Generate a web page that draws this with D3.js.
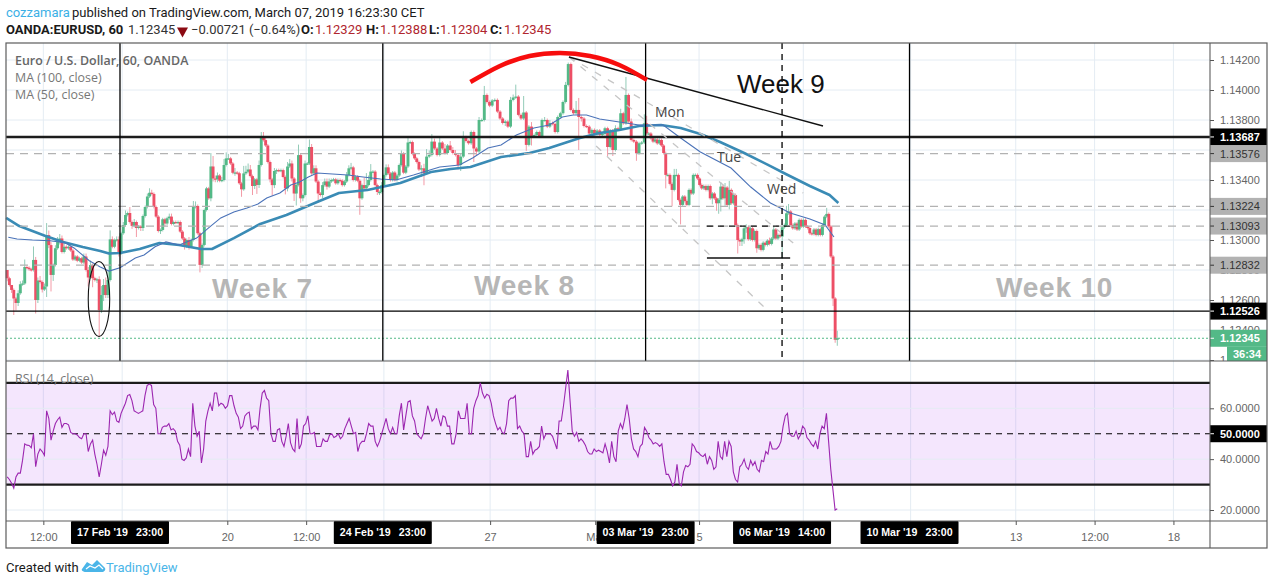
<!DOCTYPE html>
<html><head><meta charset="utf-8">
<script src="https://cdn.jsdelivr.net/npm/d3@7/dist/d3.min.js"></script>
<style>html,body{margin:0;padding:0;background:#fff}svg{display:block}</style>
</head><body><div id="c"></div>
<script>
// ---- candle data (hours are counted from 17 Feb 23:00) ----
const closesA=[1.12745,1.1270,1.12667,1.1261,1.1258,1.12645,1.12705,1.1271,1.1282,1.12815,
1.12805,1.1280,1.12867,1.1260,1.1273,1.1272,1.1267,1.1269,1.13033,1.12966,
1.12767,1.12833,1.12945,1.1299,1.1301,1.1292,1.12955,1.12945,1.12955,1.1293,
1.1287,1.1289,1.12862,1.12878,1.1285,1.1289,1.1280,1.1275,1.12833,1.12745,
1.12733,1.12738,1.12533,1.12633,1.1270,1.12633,1.12733,1.13004,1.12955,1.1300,
1.13004,1.1291];
const wickUpA=[0,1,0,1,1,2,2,2,5,1, 1,1,9,2,2,3,1,2,8,3, 2,1,2,3,3,2,3,1,1,1, 1,1,1,1,1,2,2,2,3,1, 1,1,2,6,4,5,6,6,2,1, 2,2];
const wickDnA=[2,1,2,11,5,2,1,1,1,1, 1,1,1,9,2,1,2,1,7,2, 11,4,1,1,2,1,1,1,1,1, 1,1,1,1,1,1,1,6,1,6, 1,2,18,2,4,2,2,1,1,1, 1,2];

const closesB=[1.13045,1.1310,1.13167,1.1318,1.1312,1.13094,1.1312,1.1308,1.1309,1.1308,
1.1316,1.1322,1.1329,1.13315,1.13307,1.1322,1.13156,1.1306,1.13067,1.13138,1.1311,
1.13145,1.13156,1.13107,1.1312,1.13116,1.1312,1.13056,1.1301,1.12956,1.1300,
1.12956,1.1300,1.1322,1.13227,1.13045,1.12834,1.12967,1.1320,1.13344,1.13278,
1.1349,1.1341,1.13405,1.1343,1.13395,1.1340,1.1350,1.13544,1.13544,1.1351,
1.13448,1.1345,1.13445,1.13378,1.13338,1.13444,1.13455,1.1347,1.13426,1.1336,1.13404,
1.13367,1.1350,1.1369,1.13666,1.1363,1.1352,1.13404,1.13366,1.1346,1.13466,
1.13462,1.13466,1.1342,1.13344,1.1349,1.1351,1.1341,1.1331,1.13367,1.13566,1.13278,
1.1330,1.1351,1.1351,1.1362,1.13444,1.13478,1.1339,1.1331,1.1330,1.13366,
1.1339,1.13356,1.1339,1.1340,1.13404,1.13378,1.1340,1.13395,1.13366,1.1339,
1.13433,1.13478,1.13484,1.1340,1.13422,1.13395,1.13278,1.13366,1.13344,1.13366,
1.1340,1.13456,1.13456,1.13366,1.1332,1.1332,1.13366];
const wickUpB=[1,2,3,1,4,1,2,1,1,1, 1,1,2,3,2,1,1,1,1,1,1, 1,2,2,1,1,1,1,1,1,1, 2,1,4,3,1,1,1,1,1,1, 9,7,2,2,1,2,4,4,3,1, 1,3,1,1,1,5,4,4,3,1,1, 1,3,3,3,2,1,1,1,2,1, 1,1,1,1,3,3,2,1,1,7,1, 1,2,1,5,2,2,2,1,1,2, 2,2,2,1,1,1,1,1,1,1, 2,2,3,1,1,1,1,1,5,8, 3,5,1,1,1,1,2];
const wickDnB=[1,1,1,1,1,2,1,6,1,2, 2,1,1,1,1,1,1,1,2,1,2, 1,1,1,1,1,1,1,1,2,1, 2,1,1,1,1,5,2,1,1,1, 2,2,2,2,1,1,1,1,1,1, 1,2,1,1,5,1,1,1,1,6,2, 6,2,1,1,1,1,2,7,2,2, 1,1,1,4,2,1,2,5,8,1,3, 2,1,1,1,1,1,1,6,1,2, 1,2,1,1,1,1,1,1,1,1, 1,1,1,1,1,1,11,1,1,1, 1,1,1,1,2,2,1];

const closesC1=[1.13433,1.13484,1.13444,1.1340,1.1345,1.1340,1.1343,1.1350,1.13577,1.13449,
1.1349,1.1365,1.13653,1.13574,1.13544,1.1352,1.1347];
const wickUpC1=[1,2,2,1,1,1,1,1,2,1, 1,4,1,1,1,1,1];
const wickDnC1=[1,1,1,1,1,1,1,1,1,1, 1,1,1,1,1,1,1];

const closesC2=[1.13478,1.13445,1.13556,1.13567,1.13656,1.1361,1.13567,1.1365,1.1361,1.1358,
1.1363,1.1360,1.1358,1.13567,1.1350,1.13556,1.13685,1.1366,1.13645,1.1372,
1.1361,1.1359,1.1380,1.1380,1.13967,1.1392,1.13896,1.1393,1.13934,1.13856,
1.1381,1.1378,1.1379,1.13756,1.13934,1.1395,1.13956,1.13834,1.1381,1.1385,
1.13634,1.13756,1.1369,1.1370,1.1372,1.1369,1.1380,1.1380,1.13756,1.1378,
1.13774,1.1372,1.1382,1.13845,1.1392,1.14034,1.14173,1.13867,1.13845,1.13867,
1.1382,1.1381,1.1376,1.13756,1.1371,1.13734,1.13707,1.1373,1.1370,1.13707,
1.13745,1.1362,1.1373,1.1360,1.13745,1.1374,1.13845,1.13778,1.13967,1.1379,
1.13667,1.13656,1.13578,1.13645,1.1365,1.13778];
const wickUpC2=[2,3,5,3,5,2,1,4,1,3, 1,3,2,2,1,2,4,1,1,1, 1,1,2,1,6,1,1,1,1,1, 1,1,1,1,2,2,8,1,1,11, 1,1,3,1,1,1,1,2,1,2, 1,1,1,1,1,2,1,1,1,6, 8,1,1,1,1,1,1,1,1,1, 1,1,1,1,2,1,3,1,12,1, 2,1,1,1,1,6];
const wickDnC2=[5,8,1,1,1,1,1,1,1,1, 1,1,1,1,3,4,1,1,1,1, 9,3,1,1,1,1,1,1,1,1, 1,1,2,1,1,1,1,1,1,1, 4,1,6,1,1,1,1,1,1,1, 1,1,1,1,1,1,1,1,1,1, 22,2,1,1,1,1,1,1,1,1, 1,6,1,4,1,1,1,1,1,1, 1,1,5,1,1,1];

const closesD=[1.1371,1.1371,1.13678,1.13656,1.1367,1.13644,1.13667,1.1363,1.1358,1.13434,
1.13434,1.13374,1.13334,1.13434,1.13434,1.13267,1.13234,1.1329,1.1326,1.13234,
1.13334,1.1331,1.13434,1.13434,1.1341,1.13367,1.13344,1.1336,1.13334,1.1336,
1.13278,1.1331,1.13278,1.13245,1.1327,1.13356,1.13278,1.1335,1.13234,1.13334,
1.13245,1.1330,1.1310,1.1300,1.1299,1.13005,1.13078,1.13085,1.13005,1.13078,
1.1300,1.1306,1.12945,1.12967,1.12934,1.12982,1.12967,1.12996,1.12974,1.1301,
1.1307,1.1301,1.13034,1.13023,1.13085,1.1310,1.13178,1.1319,1.1310,1.13078,
1.1311,1.1307,1.13134,1.1309,1.13134,1.1309,1.1308,1.13045,1.1304,1.1307,
1.13034,1.13072,1.13034,1.1310,1.13156,1.13174,1.1309,1.1289,1.1261,1.12335,1.12345];
const wickUpD=[5,1,1,1,1,1,1,1,1,1, 1,1,1,4,4,1,1,1,1,1, 1,1,1,1,1,1,1,1,1,1, 1,1,1,1,1,3,1,3,1,6, 1,1,1,1,1,1,2,2,1,1, 1,1,1,1,1,1,1,1,2,1, 2,1,1,1,1,1,5,5,1,1, 1,1,1,1,1,1,1,1,1,1, 1,1,1,1,1,4,1,1,1,1,5];
const wickDnD=[1,1,1,1,1,1,1,1,1,9, 1,1,11,1,1,1,13,1,1,1, 1,1,1,1,1,1,1,1,1,1, 1,4,1,5,7,8,1,5,1,3, 1,1,1,9,3,3,3,3,1,1, 1,1,3,1,1,1,1,1,1,1, 1,1,1,1,15,1,1,1,1,1, 1,1,1,1,1,1,1,1,1,1, 1,1,1,1,1,1,1,1,5,2,4];

// ---- moving averages ----
const ma100Hours=[-52,-46,-34,-26,-17,-9,-5,0,9,18,27,37,42,52,64,76,90,100,113,128,142,151,160,174,187,196,203,210,219,228,237,247,256,265,274,285,297,304,315,324,328];
const ma100=[1.13147,1.13093,1.13027,1.12987,1.12953,1.12927,1.1291,1.12913,1.1294,1.1298,1.12967,1.1294,1.1294,1.13013,1.13107,1.13167,1.13253,1.13313,1.13333,1.1338,1.13453,1.13473,1.13487,1.13553,1.1358,1.13613,1.13647,1.1368,1.13713,1.13733,1.1376,1.13767,1.13747,1.13707,1.13653,1.1358,1.13493,1.1344,1.1336,1.133,1.13247];
const ma50Hours=[-51,-47,-40,-32,-25,-21,-14,-9,-5,0,7,11,16,21,27,35,41,46,52,58,63,67,73,78,82,86,90,97,104,111,119,126,134,146,155,161,168,174,181,189,196,202,207,213,219,228,237,248,256,265,279,288,297,306,315,322,326];
const ma50=[1.13018,1.13007,1.130,1.12995,1.12982,1.12947,1.12862,1.1282,1.12793,1.12815,1.1288,1.129,1.12955,1.12987,1.12967,1.13013,1.13087,1.13147,1.13187,1.13213,1.1324,1.1328,1.13313,1.13367,1.13387,1.1342,1.13447,1.1344,1.13433,1.1342,1.13407,1.134,1.13433,1.13487,1.135,1.13547,1.13613,1.13633,1.137,1.13747,1.13767,1.1382,1.13833,1.13833,1.13807,1.13787,1.13767,1.13767,1.1368,1.13587,1.1348,1.13353,1.13247,1.1318,1.1314,1.131,1.1302];

// ---- RSI (14, close), one reading per bar ----
const rsiA=[33,32,30.5,28.6,33,34.5,34.5,39.5,46,45.5,45.4,44.5,50,37,42,44,43,41.5,59,56,47.5,51,54,55.5,56.5,52.5,54,54,53.5,50.5,50,50,49.5,48.5,48,50,50,43,46,47.5,42,38,33,38,43.5,41.5,45,59,57.5,58.5,55,54.5];
const rsiB=[58,60,62,65,65.4,63,59,58.5,58,58.5,59,65,69,69.5,69,61.5,60,50,50,52.5,53,53,54,51.5,52,51,47,45.5,40,39.5,40.5,44,41,62,53,49,51,38.5,44,55,59,62,59,66,66,61,62,61.5,60,61,65,65,61,58,56.5,52,53,57,58,58.5,52,53,53,51.5,60,66,67,64,63,50,47,47,51.5,52,47,45,49,54,46.5,44,43,56,44,46,53,54,57,50,50,50.5,45,45,45,48,47,47,49.5,50,48.5,49,50,48,49,52,54,56,53,50,50.5,43,46,47,47,50,54,53,53,47,45,47,50];
const rsiC=[53,56,52,50,52.5,50,50,57,62,51.5,57,62.5,63,57,55,50,49,48,50,56,61,58,55,56,60,56,53,57,56.5,53,53,46,46,50,59,56,56,56,62,50,50,60,63,65,70,66,64,65.5,65,62,57,54,51.5,52.5,50.5,50,54,63,64,64,65,52,53,51,50,41,41,47,42,43.5,44,45,53,48,50,50,50,49,46.5,44,55,55,61,68,75,63,51,49,50.5,47,48,47,45.5,43,42,42,44,43,43.5,43,42.5,46,43,38.5,47,41,39,51,54,52,56,61.5,56,48,44,43,41,45,46,52.5];
const rsiD=[51,48.5,47.5,46,46.5,46,45,46,39,34,34,32,29.5,31,38,30.5,29.5,35,37.5,37,38,46,45,43,42.5,41.5,41,42,38,41,39.5,36,37,47,41,40,47,41,47,45,35,32,31,37,38,40,37,36,39.5,37.5,39,36,35,39.5,39,43,42,47,44,44,44,45,47,53,57,58,50,49,49,51,48,49.5,53,52,48.5,47.5,46,45,47,44,50,53,52,58,47,36,28,20,20.5];

// ---- axis ticks and levels ----
const priceTicks=[1.142,1.140,1.138,1.134,1.130,1.128,1.126,1.124,1.122];
const rsiTicks=[60,40,20];
const timeTickHours=[-35,1,49,85,120.5,169,217,264.4,312,361,409,445,481];
const timeTickLabels=["12:00","","20","12:00","","27","Mar","5","","","13","12:00","18"];
const weekHours=[0,120,240,360.5];
const solidLevels=[1.13687,1.12526];
const dashedLevels=[1.13576,1.13224,1.13093,1.12832];
const lastPrice=1.12345;
const dateLabels=["17 Feb '19","24 Feb '19","03 Mar '19","06 Mar '19","10 Mar '19"];
const timeLabels=["23:00","23:00","23:00","14:00","23:00"];
const dateHours=[0,120,240,302.3,360.5];

const W=1274,H=585;
const L=6,R=1210,RR=1267,T=43,M=361,B1=521,B2=548;
const svg=d3.select("#c").append("svg").attr("width",W).attr("height",H).attr("viewBox",`0 0 ${W} ${H}`);
const SANS="'Open Sans','Noto Sans',sans-serif", HEAD="Roboto,'Open Sans',sans-serif", AX="'Liberation Sans',Arial,sans-serif";

const x=d3.scaleLinear().domain([-52.05,497.7]).range([L,R]);
const y=d3.scaleLinear().domain([1.142,1.124]).range([60,330]);
const yR=d3.scaleLinear().domain([60,20]).range([408.3,510]);
const PIP=0.0001;

// grid
const g=svg.append("g");
const gridC="#e4ecf3";
g.selectAll(".vg").data(timeTickHours).join("line").attr("x1",d=>x(d)).attr("x2",d=>x(d)).attr("y1",T).attr("y2",B1).attr("stroke",gridC).attr("stroke-width",1);
g.selectAll(".hg").data([1.142,1.140,1.138,1.136,1.134,1.132,1.130,1.128,1.126,1.124,1.122]).join("line").attr("x1",L).attr("x2",R).attr("y1",d=>y(d)).attr("y2",d=>y(d)).attr("stroke",gridC);

// RSI band
const band=svg.append("g");
band.append("rect").attr("x",L).attr("width",R-L).attr("y",yR(70)).attr("height",yR(30)-yR(70)).attr("fill","#9c27f0").attr("fill-opacity",.115);
band.selectAll(".rg").data(rsiTicks).join("line").attr("x1",L).attr("x2",R).attr("y1",d=>yR(d)).attr("y2",d=>yR(d)).attr("stroke",gridC);

// candles
function segment(closes,up,dn,start,span){return closes.map((c,i)=>({c,u:up[i]||0,d:dn[i]||0,h:start+(i+.5)*span/closes.length}));}
const bars=[].concat(
 segment(closesA,wickUpA,wickDnA,-52,52),
 segment(closesB,wickUpB,wickDnB,0,120),
 segment(closesC1,wickUpC1,wickDnC1,120,17),
 segment(closesC2,wickUpC2,wickDnC2,137,103),
 segment(closesD,wickUpD,wickDnD,240,88));
bars.forEach((b,i)=>{b.o=i?bars[i-1].c:1.1280;b.hi=Math.max(b.o,b.c)+b.u*PIP;b.lo=Math.min(b.o,b.c)-b.d*PIP;b.upc=b.c>=b.o;});
const RED="#ed4f66",GRN="#53b987";
const cg=svg.append("g");
cg.selectAll(".w").data(bars).join("line").attr("x1",d=>x(d.h)).attr("x2",d=>x(d.h)).attr("y1",d=>y(d.hi)).attr("y2",d=>y(d.lo)).attr("stroke",d=>d.upc?"#93cbb8":"#f39aa6").attr("stroke-width",1);
cg.selectAll(".b").data(bars).join("rect").attr("x",d=>x(d.h)-1.45).attr("width",2.9)
 .attr("y",d=>y(Math.max(d.o,d.c))).attr("height",d=>Math.max(1.2,Math.abs(y(d.o)-y(d.c)))).attr("fill",d=>d.upc?GRN:RED);

// moving averages
const lineP=d3.line().x(d=>x(d[0])).y(d=>y(d[1]));
const mg=svg.append("g").attr("fill","none");
mg.append("path").attr("d",lineP(d3.zip(ma100Hours,ma100))).attr("stroke","#3a8bb5").attr("stroke-width",2.6).attr("stroke-linejoin","round");
mg.append("path").attr("d",lineP(d3.zip(ma50Hours,ma50))).attr("stroke","#4a72b8").attr("stroke-width",1.1);

// horizontal levels
const lv=svg.append("g");
lv.selectAll(".dl").data(dashedLevels).join("line").attr("x1",L).attr("x2",R).attr("y1",d=>y(d)).attr("y2",d=>y(d)).attr("stroke","#b2b2b2").attr("stroke-width",1.2).attr("stroke-dasharray","8 6");
lv.append("line").attr("x1",L).attr("x2",R).attr("y1",y(solidLevels[0])).attr("y2",y(solidLevels[0])).attr("stroke","#1c1c1c").attr("stroke-width",2.4);
lv.append("line").attr("x1",L).attr("x2",R).attr("y1",y(solidLevels[1])).attr("y2",y(solidLevels[1])).attr("stroke","#000").attr("stroke-width",1.4);
lv.append("line").attr("x1",L).attr("x2",R).attr("y1",y(lastPrice)).attr("y2",y(lastPrice)).attr("stroke",GRN).attr("stroke-width",1).attr("stroke-dasharray","2 2");

// week separators, drawn lines
lv.selectAll(".wk").data(weekHours).join("line").attr("x1",d=>x(d)).attr("x2",d=>x(d)).attr("y1",T).attr("y2",M).attr("stroke","#000").attr("stroke-width",1.3);
const drawn=svg.append("g").attr("fill","none");
const fanHours=[[205,312],[205,307.4],[217.4,294.5]];
const fanPrices=[[1.1422,1.13313],[1.1422,1.1298],[1.13627,1.12547]];
fanHours.forEach((h,i)=>drawn.append("path").attr("d",lineP([[h[0],fanPrices[i][0]],[h[1],fanPrices[i][1]]])).attr("stroke","#c6c6c6").attr("stroke-width",1.3).attr("stroke-dasharray","7 8"));
const trendHours=[205,321],trendPrices=[1.1422,1.1376];
drawn.append("path").attr("d",lineP(d3.zip(trendHours,trendPrices))).attr("stroke","#111").attr("stroke-width",1.3);
const arcHours=[160,173.5,187,201,214.6,228,240.6],arcPrices=[1.14053,1.1416,1.14227,1.14247,1.14227,1.14167,1.14067];
drawn.append("path").attr("d",d3.line().x(d=>x(d[0])).y(d=>y(d[1])).curve(d3.curveNatural)(d3.zip(arcHours,arcPrices))).attr("stroke","#f70d0d").attr("stroke-width",4.5);
const shortHours=[268,306];
drawn.append("line").attr("x1",x(shortHours[0])).attr("x2",x(shortHours[1])).attr("y1",y(1.1288)).attr("y2",y(1.1288)).attr("stroke","#111").attr("stroke-width",1.3);
drawn.append("line").attr("x1",x(shortHours[0])).attr("x2",x(shortHours[1])).attr("y1",y(1.13093)).attr("y2",y(1.13093)).attr("stroke","#111").attr("stroke-width",1.2).attr("stroke-dasharray","6 5");
drawn.append("line").attr("x1",x(302.3)).attr("x2",x(302.3)).attr("y1",T).attr("y2",M).attr("stroke","#000").attr("stroke-width",1.3).attr("stroke-dasharray","6 5");
const ellipseC=[-9.6,1.12607],ellipseR=[4.9,0.0025];
drawn.append("ellipse").attr("cx",x(ellipseC[0])).attr("cy",y(ellipseC[1])).attr("rx",x(ellipseR[0])-x(0)).attr("ry",y(0)-y(ellipseR[1])).attr("stroke","#111").attr("stroke-width",1.1);

// RSI lines
band.raise();
const rsiSeries=[].concat(
 rsiA.map((v,i)=>[-52+(i+.5)*52/rsiA.length,v]),
 rsiB.map((v,i)=>[(i+.5)*120/rsiB.length,v]),
 rsiC.map((v,i)=>[120+(i+.5)*120/rsiC.length,v]),
 rsiD.map((v,i)=>[240+(i+.5)*88/rsiD.length,v]));
const rl=svg.append("g");
rl.selectAll(".bl").data([70,30]).join("line").attr("x1",L).attr("x2",R).attr("y1",d=>yR(d)).attr("y2",d=>yR(d)).attr("stroke","#1c1c1c").attr("stroke-width",2.2);
rl.append("line").attr("x1",L).attr("x2",R).attr("y1",yR(50)).attr("y2",yR(50)).attr("stroke","#000").attr("stroke-width",1.1).attr("stroke-dasharray","6 5");
rl.append("path").attr("d",d3.line().x(d=>x(d[0])).y(d=>yR(d[1]))(rsiSeries)).attr("fill","none").attr("stroke","#9c27b0").attr("stroke-width",1.1);

// text annotations
const ann=svg.append("g");
function txt(s,px,py,o={}){return ann.append("text").attr("x",px).attr("y",py).text(s).attr("font-family",o.f||SANS).attr("font-size",o.s||12).attr("font-weight",o.w||400).attr("fill",o.c||"#555").attr("text-anchor",o.a||"start").attr("letter-spacing",o.ls||null);}
txt("Week 7",212,298,{f:AX,s:28,w:700,c:"#b6b6b6",ls:.8});
txt("Week 8",474,295,{f:AX,s:28,w:700,c:"#b6b6b6",ls:.8});
txt("Week 10",996,297,{f:AX,s:28,w:700,c:"#b6b6b6",ls:.8});
txt("Week 9",737,93,{f:AX,s:26,c:"#111"});
txt("Mon",655,117,{f:SANS,s:14,c:"#444"});
txt("Tue",717,162,{f:SANS,s:14,c:"#444"});
txt("Wed",767,194,{f:SANS,s:14,c:"#444"});
txt("Euro / U.S. Dollar, 60, OANDA",15,65,{s:12.4,w:600,c:"#666"});
txt("MA (100, close)",15,82,{s:12.4,c:"#777"});
txt("MA (50, close)",15,99,{s:12.4,c:"#777"});
txt("RSI (14, close)",15,383,{s:12.4,c:"#777"});

// cover for axis areas, then axes
const cov=svg.append("g");
cov.append("rect").attr("x",R).attr("y",T).attr("width",RR-R).attr("height",B2-T).attr("fill","#fff");
cov.append("rect").attr("x",L).attr("y",B1).attr("width",R-L).attr("height",B2-B1).attr("fill","#fff");

function styleAxis(sel){sel.select(".domain").remove();sel.selectAll("text").attr("font-family",AX).attr("font-size",11).attr("fill","#666");sel.selectAll("line").attr("stroke","#555");}
svg.append("clipPath").attr("id","pcx").append("rect").attr("x",0).attr("y",T).attr("width",RR-R).attr("height",M-T);
svg.append("g").attr("transform",`translate(${R},0)`).attr("clip-path","url(#pcx)")
 .call(d3.axisRight(y).tickValues(priceTicks).tickFormat(d3.format(".5f")).tickSize(4).tickPadding(6)).call(styleAxis);
svg.append("g").attr("transform",`translate(${R},0)`)
 .call(d3.axisRight(yR).tickValues(rsiTicks).tickFormat(d3.format(".4f")).tickSize(4).tickPadding(6)).call(styleAxis);
svg.append("g").attr("transform",`translate(0,${B1})`)
 .call(d3.axisBottom(x).tickValues(timeTickHours).tickFormat((d,i)=>timeTickLabels[i]).tickSize(4).tickPadding(8)).call(styleAxis);

// price badges
const badges=svg.append("g");
function badge(v,fill,tc,sy,bold){
 badges.append("rect").attr("x",R).attr("y",sy(v)-8.5).attr("width",RR-R).attr("height",17).attr("fill",fill);
 badges.append("line").attr("x1",R).attr("x2",R+4).attr("y1",sy(v)).attr("y2",sy(v)).attr("stroke",tc);
 badges.append("text").attr("x",R+10).attr("y",sy(v)+4).text(d3.format(sy===y?".5f":".4f")(v)).attr("font-family",AX).attr("font-size",11).attr("font-weight",bold?700:400).attr("fill",tc);
}
solidLevels.forEach(v=>badge(v,"#000","#fff",y,true));
dashedLevels.forEach(v=>badge(v,"#b2b2b2","#333",y,false));
badge(lastPrice,GRN,"#fff",y,true);
badge(50,"#000","#fff",yR,true);
const countdown="36:34";
badges.append("rect").attr("x",1227).attr("y",346.5).attr("width",RR-1227).attr("height",M-346.5).attr("fill",GRN);
badges.append("text").attr("x",1247).attr("y",358).attr("text-anchor","middle").text(countdown).attr("font-family",AX).attr("font-size",11).attr("font-weight",700).attr("fill","#fff");

// date badges on the time axis
dateLabels.forEach((d,i)=>{
 const bx=x(dateHours[i])-49;
 badges.append("rect").attr("x",bx).attr("y",B1).attr("width",98).attr("height",23).attr("rx",1).attr("fill","#000");
 badges.append("text").attr("x",bx+6).attr("y",B1+15).text(d).attr("font-family",AX).attr("font-size",10.6).attr("font-weight",700).attr("fill","#fff");
 badges.append("text").attr("x",bx+65).attr("y",B1+15).text(timeLabels[i]).attr("font-family",AX).attr("font-size",10.6).attr("font-weight",700).attr("fill","#fff");
});

// frame
const fr=svg.append("g").attr("stroke","#5c5c5c").attr("fill","none");
fr.append("rect").attr("x",L).attr("y",T).attr("width",RR-L).attr("height",B2-T).attr("stroke-width",1.2);
[[R,T,R,B2],[L,M,RR,M],[L,B1,RR,B1]].forEach(a=>fr.append("line").attr("x1",a[0]).attr("y1",a[1]).attr("x2",a[2]).attr("y2",a[3]).attr("stroke-width",1.1));

// header
const hd=svg.append("g");
function h(s,px,py,o={}){return hd.append("text").attr("x",px).attr("y",py).text(s).attr("font-family",HEAD).attr("font-size",o.s||13).attr("font-weight",o.w||400).attr("fill",o.c||"#1a1a1a");}
h("cozzamara",6,17,{c:"#3bb0e6"});
h("published on TradingView.com, March 07, 2019 16:23:30 CET",72,17);
h("OANDA:EURUSD, 60",6,34,{w:700});
h("1.12345",128,34,{c:"#333"});
hd.append("path").attr("d","M177 27.5h11l-5.5 10z").attr("fill","#8b0a12");
h("−0.00721 (−0.64%)",191,34,{c:"#333"});
const ohlcLabels=["O:","H:","L:","C:"],ohlcValues=["1.12329","1.12388","1.12304","1.12345"];
const ohlcLabelX=[301,366,429,490],ohlcValueX=[315,380,440,504];
ohlcLabels.forEach((a,i)=>{h(a,ohlcLabelX[i],34,{w:700});h(ohlcValues[i],ohlcValueX[i],34,{c:"#b0262e"});});
h("Created with",6,572,{s:13});
h("TradingView",106,572,{s:13,c:"#4ab5e8"});
hd.append("path").attr("d","M82 569l5-7 5 3 5-5 8 8c1 2-1 4-3 4H86c-3 0-5-2-4-3z").attr("fill","#4ab5e8");
hd.append("path").attr("d","M86 569l4-3 5 2 4-3 4 4").attr("fill","none").attr("stroke","#fff").attr("stroke-width",1.2);
</script></body></html>
